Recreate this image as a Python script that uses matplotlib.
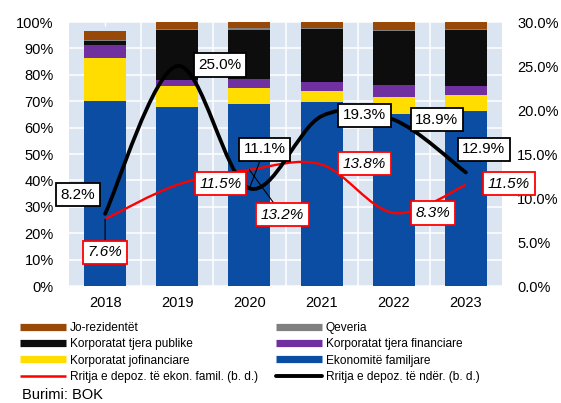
import matplotlib
matplotlib.use("Agg")
import matplotlib.pyplot as plt
import numpy as np
from matplotlib.path import Path
from matplotlib.patches import PathPatch
from matplotlib.lines import Line2D
from matplotlib.ticker import FuncFormatter, MultipleLocator, FixedLocator

plt.rcParams['font.family'] = ['Liberation Sans', 'DejaVu Sans']

# ---- data ----
years = ['2018', '2019', '2020', '2021', '2022', '2023']
ekonomite_familjare = [70.1, 67.9, 68.8, 69.7, 65.3, 66.2]
korp_jofinanciare = [16.4, 7.8, 6.1, 4.0, 6.3, 6.0]
korp_tjera_financiare = [4.9, 2.3, 3.4, 3.6, 4.4, 3.4]
korp_tjera_publike = [1.4, 18.9, 18.8, 19.9, 20.6, 21.5]
qeveria = [0.5, 0.6, 0.5, 0.4, 0.4, 0.4]
jo_rezidentet = [3.3, 2.5, 2.4, 2.4, 3.0, 2.5]
rritja_ekon_famil = [7.6, 11.5, 13.2, 13.8, 8.3, 11.5]
rritja_nder = [8.2, 25.0, 11.1, 19.3, 18.9, 12.9]

series_names = ['Ekonomitë familjare', 'Korporatat jofinanciare',
                'Korporatat tjera financiare', 'Korporatat tjera publike',
                'Qeveria', 'Jo-rezidentët']
series_vals = [ekonomite_familjare, korp_jofinanciare, korp_tjera_financiare,
               korp_tjera_publike, qeveria, jo_rezidentet]
series_colors = ['#0a4da2', '#ffdd00', '#7030a0', '#0d0d0d', '#808080', '#984807']
line_red_name = 'Rritja e depoz. të ekon. famil. (b. d.)'
line_blk_name = 'Rritja e depoz. të ndër. (b. d.)'

# label offsets in pixels (dx, dy) relative to the points
blk_offsets = [(-27, 19), (43, 1), (15, 39), (43, 1), (43, 0), (18, 23)]
red_offsets = [(0, -33), (43, 1), (33, -45), (43, 1), (39, 0), (43, 1)]
blk_leader = [False, False, True, False, False, False]
red_leader = [True, False, True, False, False, False]

W, H = 561, 403
fig = plt.figure(figsize=(W / 100, H / 100), dpi=100)
ax = fig.add_axes([69 / W, 1 - 286 / H, (502 - 69) / W, (286 - 22) / H])
ax.set_facecolor('#dbe5f1')

x = np.arange(len(years))
bottom = np.zeros(len(years))
for vals, c in zip(series_vals, series_colors):
    ax.bar(x, vals, width=0.58, bottom=bottom, color=c, edgecolor='none', zorder=2)
    bottom += np.array(vals)

ax.set_xlim(-0.5, len(years) - 0.5)
ax.set_ylim(0, 100)
ax.yaxis.set_major_locator(MultipleLocator(10))
ax.yaxis.set_major_formatter(FuncFormatter(lambda v, p: f'{v:.0f}%'))
ax.set_xticks(x)
ax.set_xticklabels(years)
ax.xaxis.set_minor_locator(FixedLocator(np.arange(0.5, len(years) - 1, 1.0)))
ax.grid(True, axis='y', which='major', color='white', lw=1.1, zorder=1)
ax.grid(True, axis='x', which='minor', color='white', lw=1.1, zorder=1)
ax.set_axisbelow(True)
for s in ax.spines.values():
    s.set_visible(False)
ax.tick_params(axis='y', length=0, pad=11, labelsize=10.5)
ax.tick_params(axis='x', which='major', bottom=False, top=True, direction='in',
               length=3, width=1, color='white', pad=7, labelsize=10.5)
ax.tick_params(axis='x', which='minor', length=0)
for t in ax.xaxis.get_major_ticks():
    t.tick2line.set_zorder(5)

ax2 = ax.twinx()
ax2.set_ylim(0, 30)
ax2.yaxis.set_major_locator(MultipleLocator(5))
ax2.yaxis.set_major_formatter(FuncFormatter(lambda v, p: f'{v:.1f}%'))
ax2.tick_params(axis='y', length=0, pad=11, labelsize=10.5)
for s in ax2.spines.values():
    s.set_visible(False)


def smooth_path(xs, ys):
    pts = np.column_stack([xs, ys]).astype(float)
    n = len(pts)
    verts = [pts[0]]
    codes = [Path.MOVETO]
    for i in range(n - 1):
        p0 = pts[i - 1] if i > 0 else pts[i]
        p1 = pts[i]
        p2 = pts[i + 1]
        p3 = pts[i + 2] if i + 2 < n else pts[i + 1]
        c1 = p1 + (p2 - p0) / 6.0
        c2 = p2 - (p3 - p1) / 6.0
        verts += [c1, c2, p2]
        codes += [Path.CURVE4] * 3
    return Path(verts, codes)


ax2.add_patch(PathPatch(smooth_path(x, rritja_ekon_famil), fill=False,
                        edgecolor='#ff0000', lw=1.7, zorder=3))
ax2.add_patch(PathPatch(smooth_path(x, rritja_nder), fill=False,
                        edgecolor='black', lw=2.7, capstyle='round', zorder=4))

px2pt = 0.72
for xi, v, off, lead in zip(x, rritja_ekon_famil, red_offsets, red_leader):
    ap = dict(arrowstyle='-', color='black', lw=0.8, shrinkA=0, shrinkB=0) if lead else None
    ax2.annotate(f'{v:.1f}%', (xi, v), xytext=(off[0] * px2pt, off[1] * px2pt),
                 textcoords='offset points', ha='center', va='center',
                 fontsize=11, style='italic',
                 bbox=dict(boxstyle='square,pad=0.3', fc='white', ec='#ff0000', lw=1.3),
                 arrowprops=ap, zorder=6)
for xi, v, off, lead in zip(x, rritja_nder, blk_offsets, blk_leader):
    ap = dict(arrowstyle='-', color='black', lw=0.8, shrinkA=0, shrinkB=0) if lead else None
    ax2.annotate(f'{v:.1f}%', (xi, v), xytext=(off[0] * px2pt, off[1] * px2pt),
                 textcoords='offset points', ha='center', va='center',
                 fontsize=11,
                 bbox=dict(boxstyle='square,pad=0.3', fc='white', ec='black', lw=1.3),
                 arrowprops=ap, zorder=7)

# legend (column-first ordering)
def patch_handle(c):
    return Line2D([], [], color=c, lw=5.2, solid_capstyle='butt')

handles = [patch_handle(series_colors[5]), patch_handle(series_colors[3]),
           patch_handle(series_colors[1]),
           Line2D([], [], color='#ff0000', lw=1.8, solid_capstyle='butt'),
           patch_handle(series_colors[4]), patch_handle(series_colors[2]),
           patch_handle(series_colors[0]),
           Line2D([], [], color='black', lw=2.8, solid_capstyle='round')]
labels = [series_names[5], series_names[3], series_names[1], line_red_name,
          series_names[4], series_names[2], series_names[0], line_blk_name]
fig.legend(handles, labels, ncol=2, loc='upper left',
           bbox_to_anchor=(20 / W, 1 - 322 / H), frameon=False, fontsize=8.6,
           borderpad=0, borderaxespad=0, handlelength=3.85, handletextpad=0.35,
           labelspacing=0.36, columnspacing=1.45)

fig.text(22 / W, 1 - 402 / H, 'Burimi: BOK', fontsize=10.5, ha='left', va='bottom')

fig.savefig('out.png', dpi=100)
